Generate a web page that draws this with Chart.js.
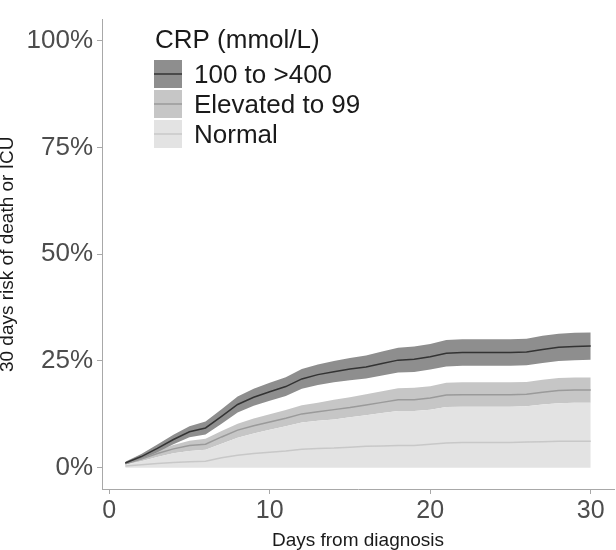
<!DOCTYPE html>
<html>
<head>
<meta charset="utf-8">
<script src="https://cdn.jsdelivr.net/npm/chart.js@4.4.1/dist/chart.umd.min.js"></script>
<style>
  html, body { margin: 0; padding: 0; background: #fff; }
  #wrap { width: 616px; height: 550px; }
</style>
</head>
<body>
<div id="wrap"><canvas id="risk" width="616" height="550"></canvas></div>
<script>
// days since diagnosis
const days = [1, 2, 3, 4, 5, 6, 7, 8, 9, 10, 11, 12, 13, 14, 15, 16, 17, 18, 19, 20, 21, 22, 23, 24, 25, 26, 27, 28, 29, 30];

// CRP 100 to >400
const highLine  = [1.1, 2.6, 4.5, 6.6, 8.4, 9.3, 12.0, 14.8, 16.5, 17.8, 19.0, 20.8, 21.8, 22.5, 23.1, 23.6, 24.4, 25.2, 25.4, 26.0, 26.8, 27.0, 27.0, 27.0, 27.0, 27.1, 27.7, 28.2, 28.4, 28.5];
const highUpper = [1.4, 3.2, 5.4, 7.7, 9.7, 10.8, 13.7, 16.7, 18.5, 19.9, 21.2, 23.1, 24.2, 25.0, 25.7, 26.3, 27.2, 28.1, 28.4, 29.0, 29.9, 30.1, 30.1, 30.1, 30.1, 30.2, 30.9, 31.4, 31.6, 31.7];
const highLower = [0.8, 2.0, 3.6, 5.5, 7.1, 7.8, 10.3, 12.9, 14.5, 15.7, 16.8, 18.5, 19.4, 20.0, 20.5, 20.9, 21.6, 22.3, 22.4, 23.0, 23.7, 23.9, 23.9, 23.9, 23.9, 24.0, 24.5, 25.0, 25.2, 25.3];

// CRP elevated to 99
const midLine  = [0.9, 2.0, 3.3, 4.4, 5.2, 5.5, 7.2, 8.8, 9.8, 10.7, 11.6, 12.6, 13.1, 13.6, 14.1, 14.7, 15.3, 15.9, 15.9, 16.3, 17.0, 17.1, 17.1, 17.1, 17.1, 17.2, 17.7, 18.1, 18.2, 18.2];
const midUpper = [1.1, 2.5, 4.0, 5.3, 6.3, 6.8, 8.6, 10.3, 11.5, 12.5, 13.5, 14.6, 15.2, 15.9, 16.5, 17.2, 17.9, 18.6, 18.7, 19.1, 19.9, 20.0, 20.0, 20.0, 20.0, 20.1, 20.6, 21.0, 21.1, 21.1];

// CRP normal
const normLine  = [0.4, 0.7, 1.0, 1.2, 1.4, 1.5, 2.3, 2.9, 3.3, 3.6, 3.9, 4.3, 4.5, 4.6, 4.8, 5.0, 5.1, 5.2, 5.2, 5.5, 5.8, 5.9, 5.9, 5.9, 5.9, 6.0, 6.1, 6.2, 6.2, 6.2];
const normUpper = [0.7, 1.5, 2.5, 3.4, 3.9, 4.2, 5.6, 7.0, 8.0, 8.9, 9.7, 10.6, 11.0, 11.3, 11.8, 12.3, 12.8, 13.3, 13.3, 13.6, 14.2, 14.3, 14.3, 14.3, 14.3, 14.4, 14.8, 15.1, 15.2, 15.2];

const xTicks = [0, 10, 20, 30];
const yTicks = [0, 25, 50, 75, 100];

const legendTitle = 'CRP (mmol/L)';
const groups = ['100 to >400', 'Elevated to 99', 'Normal'];
const bandColors = ['#8e8e8e', '#c6c6c6', '#e3e3e3'];
const lineColors = ['#333333', '#9a9a9a', '#c8c8c8'];

const FONT = "'Liberation Sans', Arial, sans-serif";
const AXIS = '#a8a8a8';

const pts = arr => days.map((d, i) => ({ x: d, y: arr[i] }));

const band = (arr, color, fill, order) => ({
  data: pts(arr), backgroundColor: color, borderColor: 'transparent',
  borderWidth: 0, pointRadius: 0, fill: fill, order: order
});
const line = (arr, color) => ({
  data: pts(arr), borderColor: color, borderWidth: 1.5, pointRadius: 0,
  fill: false, tension: 0, order: 0
});

// legend drawn by hand, ggplot style
const keyLegend = {
  id: 'keyLegend',
  afterDraw(chart){
    const ctx = chart.ctx;
    ctx.save();
    ctx.fillStyle = '#1a1a1a';
    ctx.font = '26px ' + FONT;
    ctx.textBaseline = 'alphabetic';
    ctx.fillText(legendTitle, 155, 48);
    groups.forEach((g, i) => {
      const top = 60 + i * 30;
      ctx.fillStyle = bandColors[i];
      ctx.fillRect(154, top, 28, 28);
      ctx.strokeStyle = lineColors[i];
      ctx.lineWidth = 1.5;
      ctx.beginPath();
      ctx.moveTo(154, top + 14);
      ctx.lineTo(182, top + 14);
      ctx.stroke();
      ctx.fillStyle = '#1a1a1a';
      ctx.fillText(g, 194, top + 23);
    });
    ctx.restore();
  }
};

new Chart(document.getElementById('risk'), {
  type: 'line',
  data: {
    datasets: [
      band(highUpper, bandColors[0], '+1', 10),
      band(highLower, 'transparent', false, 10),
      band(midUpper, bandColors[1], '+1', 12),
      band(normUpper, bandColors[2], 'origin', 11),
      line(highLine, lineColors[0]),
      line(midLine, lineColors[1]),
      line(normLine, lineColors[2])
    ]
  },
  options: {
    responsive: false,
    animation: false,
    layout: { padding: { top: 1, right: 2, left: 0, bottom: 0 } },
    plugins: { legend: { display: false }, tooltip: { enabled: false } },
    scales: {
      x: {
        type: 'linear', min: -0.45, max: 31.45,
        afterBuildTicks: s => { s.ticks = xTicks.map(v => ({ value: v })); },
        afterFit: s => { s.height = 61; },
        grid: { drawOnChartArea: false, drawTicks: true, tickLength: 5, color: AXIS },
        border: { display: true, color: AXIS, width: 1 },
        ticks: { color: '#4d4d4d', font: { family: FONT, size: 25 }, padding: 2, maxRotation: 0 },
        title: { display: true, text: 'Days from diagnosis', color: '#1a1a1a',
                 font: { family: FONT, size: 19, lineHeight: 1 }, padding: 0 }
      },
      y: {
        min: -5, max: 105,
        afterBuildTicks: s => { s.ticks = yTicks.map(v => ({ value: v })); },
        afterFit: s => { s.width = 102; },
        grid: { drawOnChartArea: false, drawTicks: true, tickLength: 5, color: AXIS },
        border: { display: true, color: AXIS, width: 1 },
        ticks: { color: '#4d4d4d', font: { family: FONT, size: 26 }, padding: 4, callback: v => v + '%' },
        title: { display: true, text: '30 days risk of death or ICU', color: '#1a1a1a',
                 font: { family: FONT, size: 19, lineHeight: 0.85 }, padding: 0 }
      }
    }
  },
  plugins: [keyLegend]
});
</script>
</body>
</html>
